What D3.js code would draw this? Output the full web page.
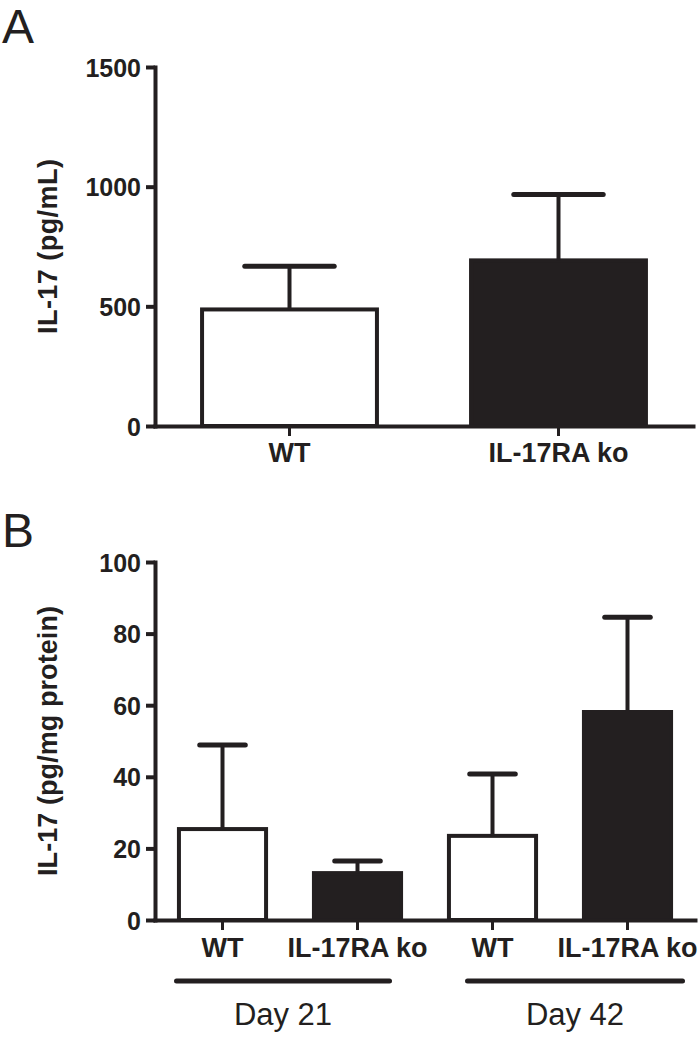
<!DOCTYPE html>
<html>
<head>
<meta charset="utf-8">
<script src="https://cdn.jsdelivr.net/npm/d3@7/dist/d3.min.js"></script>
<style>
  html, body { margin: 0; padding: 0; background: #fff; }
  svg { display: block; }
  text { font-family: "Liberation Sans", Arial, Helvetica, sans-serif; fill: #231f20; }
</style>
</head>
<body>
<script>
// ---------- DATA ----------
const panelACategories = ["WT", "IL-17RA ko"];
const panelAMeans = [487, 692];
const panelAErrors = [180, 275];
const panelATicks = [0, 500, 1000, 1500];

const panelBCategories = ["WT", "IL-17RA ko", "WT", "IL-17RA ko"];
const panelBDays = ["Day 21", "Day 21", "Day 42", "Day 42"];
const panelBMeans = [25.4, 13.1, 23.5, 58.1];
const panelBErrors = [23.5, 3.4, 17.3, 26.5];
const panelBTicks = [0, 20, 40, 60, 80, 100];
const dayGroups = ["Day 21", "Day 42"];

// ---------- STYLE / LAYOUT ----------
const INK = "#231f20";
const W = 700, H = 1039;
const fillFor = c => c === "WT" ? "#ffffff" : INK;

const svg = d3.select("body").append("svg")
  .attr("width", W).attr("height", H)
  .attr("viewBox", `0 0 ${W} ${H}`);
svg.append("rect").attr("width", W).attr("height", H).attr("fill", "#fff");

function drawPanel(opts) {
  const { cats, means, errs, ticks, yDomain, yRange, xRange, title, titleLen, letter, letterY, labelY, barFrac } = opts;
  const g = svg.append("g");
  const idx = cats.map((d, i) => i);
  const x = d3.scaleBand().domain(idx).range(xRange).padding(0);
  const y = d3.scaleLinear().domain(yDomain).range(yRange);
  const bw = x.bandwidth() * barFrac;

  // bars
  g.selectAll("rect.bar").data(idx).join("rect")
    .attr("class", "bar")
    .attr("x", i => x(i) + (x.bandwidth() - bw) / 2 + 2)
    .attr("width", bw - 4)
    .attr("y", i => y(means[i]))
    .attr("height", i => y(0) - y(means[i]))
    .attr("fill", i => fillFor(cats[i]))
    .attr("stroke", INK).attr("stroke-width", 4);

  // error bars
  const cx = i => x(i) + x.bandwidth() / 2;
  g.selectAll("line.err").data(idx).join("line")
    .attr("class", "err")
    .attr("x1", cx).attr("x2", cx)
    .attr("y1", i => y(means[i])).attr("y2", i => y(means[i] + errs[i]))
    .attr("stroke", INK).attr("stroke-width", 4);
  g.selectAll("line.cap").data(idx).join("line")
    .attr("class", "cap")
    .attr("x1", i => cx(i) - bw / 4).attr("x2", i => cx(i) + bw / 4)
    .attr("y1", i => y(means[i] + errs[i])).attr("y2", i => y(means[i] + errs[i]))
    .attr("stroke", INK).attr("stroke-width", 5).attr("stroke-linecap", "round");

  // y axis
  const ya = g.append("g").attr("transform", `translate(${xRange[0]},0)`)
    .call(d3.axisLeft(y).tickValues(ticks).tickSize(9).tickSizeOuter(0).tickPadding(5).tickFormat(d3.format("d")));
  ya.select(".domain").attr("stroke", INK).attr("stroke-width", 4).attr("stroke-linecap", "square");
  ya.selectAll(".tick line").attr("stroke", INK).attr("stroke-width", 4);
  ya.selectAll(".tick text").attr("font-size", 25).attr("font-weight", "bold")
    .attr("font-family", '"Liberation Sans", Arial, sans-serif').attr("fill", INK).attr("dy", "0.36em");

  // x axis
  const xa = g.append("g").attr("transform", `translate(0,${yRange[0]})`)
    .call(d3.axisBottom(x).tickSize(10).tickSizeOuter(0).tickFormat(i => cats[i]).tickPadding(8));
  xa.select(".domain").attr("stroke", INK).attr("stroke-width", 4).attr("stroke-linecap", "square");
  xa.selectAll(".tick line").attr("stroke", INK).attr("stroke-width", 3);
  xa.selectAll(".tick text").attr("font-size", 27).attr("font-weight", "bold")
    .attr("font-family", '"Liberation Sans", Arial, sans-serif').attr("fill", INK)
    .attr("y", labelY - yRange[0]).attr("dy", 0);

  // y title
  const ty = (yRange[0] + yRange[1]) / 2;
  g.append("text")
    .attr("transform", `translate(57,${ty}) rotate(-90)`)
    .attr("text-anchor", "middle")
    .attr("font-size", 27).attr("font-weight", "bold")
    .attr("textLength", titleLen).attr("lengthAdjust", "spacing")
    .text(title);

  // panel letter
  svg.append("text").attr("x", 2).attr("y", letterY)
    .attr("font-size", 48).text(letter);

  return { x, y };
}

drawPanel({
  cats: panelACategories, means: panelAMeans, errs: panelAErrors, ticks: panelATicks,
  yDomain: [0, 1500], yRange: [426, 67], xRange: [155, 693],
  title: "IL-17 (pg/mL)", titleLen: 175, letter: "A", letterY: 43, labelY: 462, barFrac: 0.665
});

const B = drawPanel({
  cats: panelBCategories, means: panelBMeans, errs: panelBErrors, ticks: panelBTicks,
  yDomain: [0, 100], yRange: [920, 562], xRange: [155, 695],
  title: "IL-17 (pg/mg protein)", titleLen: 270, letter: "B", letterY: 547, labelY: 957, barFrac: 0.675
});

// group lines under panel B
const groupSpan = { "Day 21": [-46, 32], "Day 42": [-25, 55] };
dayGroups.forEach(day => {
  const members = panelBDays.map((d, i) => d === day ? i : -1).filter(i => i >= 0);
  const c0 = B.x(members[0]) + B.x.bandwidth() / 2;
  const c1 = B.x(members[members.length - 1]) + B.x.bandwidth() / 2;
  const x0 = c0 + groupSpan[day][0], x1 = c1 + groupSpan[day][1];
  svg.append("line").attr("x1", x0).attr("x2", x1).attr("y1", 981).attr("y2", 981)
    .attr("stroke", INK).attr("stroke-width", 5).attr("stroke-linecap", "round");
  svg.append("text").attr("x", (x0 + x1) / 2).attr("y", 1025)
    .attr("text-anchor", "middle").attr("font-size", 31).text(day);
});
</script>
</body>
</html>
